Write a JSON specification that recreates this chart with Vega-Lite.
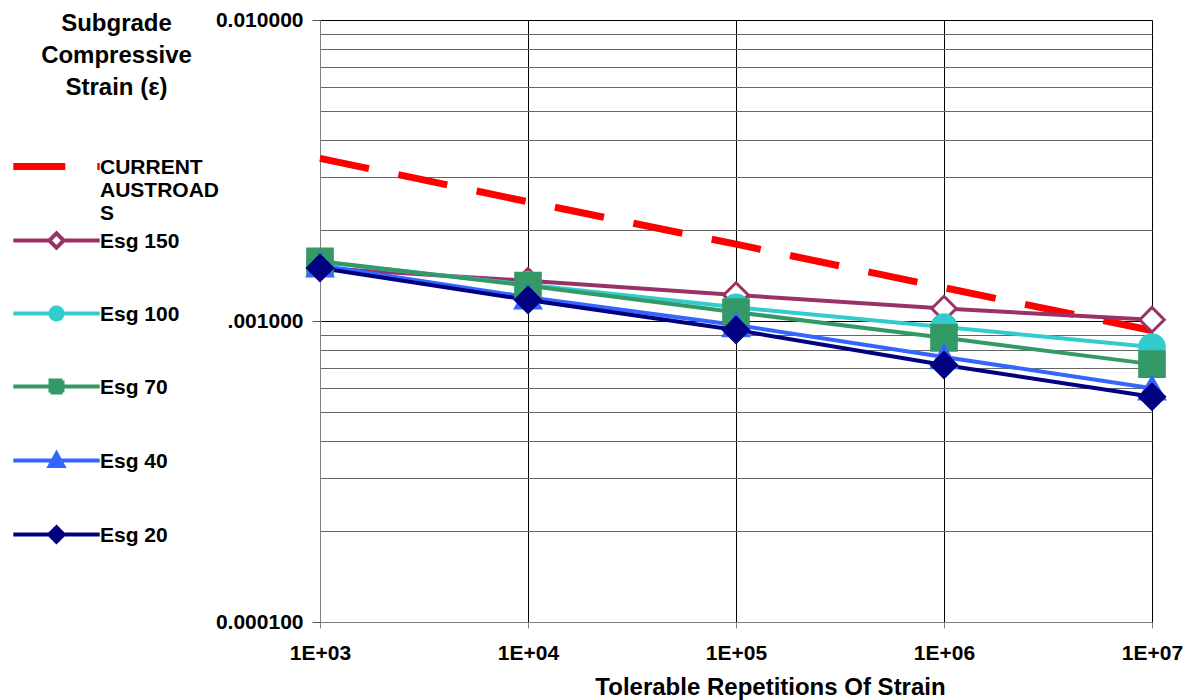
{
  "$schema": "https://vega.github.io/schema/vega-lite/v6.json",
  "width": 832,
  "height": 602,
  "autosize": "none",
  "padding": {"left": 320, "top": 20, "right": 45, "bottom": 78},
  "background": "white",
  "config": {"font": "Liberation Sans", "view": {"stroke": null}},
  "data": {
    "values": [
      {"series": "CURRENT AUSTROADS", "N": 1000, "strain": 0.00347},
      {"series": "CURRENT AUSTROADS", "N": 10000, "strain": 0.00249},
      {"series": "CURRENT AUSTROADS", "N": 100000, "strain": 0.00180},
      {"series": "CURRENT AUSTROADS", "N": 1000000, "strain": 0.00129},
      {"series": "CURRENT AUSTROADS", "N": 10000000, "strain": 0.00093},
      {"series": "Esg 150", "N": 1000, "strain": 0.00150},
      {"series": "Esg 150", "N": 10000, "strain": 0.00136},
      {"series": "Esg 150", "N": 100000, "strain": 0.00122},
      {"series": "Esg 150", "N": 1000000, "strain": 0.00110},
      {"series": "Esg 150", "N": 10000000, "strain": 0.00101},
      {"series": "Esg 100", "N": 1000, "strain": 0.00157},
      {"series": "Esg 100", "N": 10000, "strain": 0.00132},
      {"series": "Esg 100", "N": 100000, "strain": 0.00111},
      {"series": "Esg 100", "N": 1000000, "strain": 0.000955},
      {"series": "Esg 100", "N": 10000000, "strain": 0.00082},
      {"series": "Esg 70", "N": 1000, "strain": 0.00158},
      {"series": "Esg 70", "N": 10000, "strain": 0.00131},
      {"series": "Esg 70", "N": 100000, "strain": 0.00107},
      {"series": "Esg 70", "N": 1000000, "strain": 0.000879},
      {"series": "Esg 70", "N": 10000000, "strain": 0.000719},
      {"series": "Esg 40", "N": 1000, "strain": 0.00153},
      {"series": "Esg 40", "N": 10000, "strain": 0.00120},
      {"series": "Esg 40", "N": 100000, "strain": 0.00097},
      {"series": "Esg 40", "N": 1000000, "strain": 0.000759},
      {"series": "Esg 40", "N": 10000000, "strain": 0.000598},
      {"series": "Esg 20", "N": 1000, "strain": 0.00150},
      {"series": "Esg 20", "N": 10000, "strain": 0.001175},
      {"series": "Esg 20", "N": 100000, "strain": 0.000933},
      {"series": "Esg 20", "N": 1000000, "strain": 0.000714},
      {"series": "Esg 20", "N": 10000000, "strain": 0.00056}
    ]
  },
  "encoding": {
    "x": {
      "field": "N",
      "type": "quantitative",
      "scale": {"type": "log", "domain": [1000, 10000000]},
      "axis": {
        "title": "Tolerable Repetitions Of Strain",
        "titleFont": "Liberation Sans",
        "titleFontSize": 24,
        "titleFontWeight": "bold",
        "titleColor": "black",
        "titleX": 450,
        "titleY": 72,
        "titleAlign": "center",
        "titleBaseline": "alphabetic",
        "values": [1000, 10000, 100000, 1000000, 10000000],
        "labelExpr": "'1E+0' + round(log(datum.value)/LN10)",
        "labelFont": "Liberation Sans",
        "labelFontSize": 21,
        "labelFontWeight": "bold",
        "labelColor": "black",
        "labelPadding": 14,
        "labelFlush": false,
        "labelOverlap": false,
        "tickSize": 6,
        "tickColor": "#808080",
        "domainColor": "#808080",
        "grid": true,
        "gridColor": "black",
        "gridOpacity": 1
      }
    },
    "y": {
      "field": "strain",
      "type": "quantitative",
      "scale": {"type": "log", "domain": [0.0001, 0.01]},
      "axis": {
        "title": ["Subgrade", "Compressive", "Strain (ε)"],
        "titleFont": "Liberation Sans",
        "titleFontSize": 24,
        "titleFontWeight": "bold",
        "titleColor": "black",
        "titleAngle": 0,
        "titleAlign": "center",
        "titleBaseline": "alphabetic",
        "titleX": -204,
        "titleY": 10,
        "titleLineHeight": 32,
        "values": [0.0001, 0.0002, 0.0003, 0.0004, 0.0005, 0.0006, 0.0007, 0.0008, 0.0009, 0.001, 0.002, 0.003, 0.004, 0.005, 0.006, 0.007, 0.008, 0.009, 0.01],
        "labelExpr": "datum.value === 0.01 ? '0.010000' : datum.value === 0.001 ? '.001000' : datum.value === 0.0001 ? '0.000100' : ''",
        "labelFont": "Liberation Sans",
        "labelFontSize": 21,
        "labelFontWeight": "bold",
        "labelColor": "black",
        "labelPadding": 9,
        "labelFlush": false,
        "labelOverlap": false,
        "tickSize": 8,
        "tickColor": "#555555",
        "tickOpacity": {"condition": {"test": "datum.value === 0.01 || datum.value === 0.001 || datum.value === 0.0001", "value": 1}, "value": 0},
        "domainColor": "#808080",
        "grid": true,
        "gridColor": {"condition": {"test": "datum.value === 0.01 || datum.value === 0.001 || datum.value === 0.0001", "value": "black"}, "value": "#666666"},
        "gridOpacity": 1
      }
    }
  },
  "layer": [
    {
      "transform": [{"filter": "datum.series === 'CURRENT AUSTROADS'"}],
      "mark": {"type": "line", "strokeWidth": 7, "strokeDash": [50, 30]},
      "encoding": {
        "color": {
          "field": "series",
          "type": "nominal",
          "sort": null,
          "scale": {
            "domain": ["CURRENT AUSTROADS", "Esg 150", "Esg 100", "Esg 70", "Esg 40", "Esg 20"],
            "range": ["#FF0000", "#993366", "#33CCCC", "#339966", "#3366FF", "#000080"]
          },
          "legend": {
            "orient": "none",
            "legendX": -310,
            "legendY": 136,
            "title": null,
            "labelFont": "Liberation Sans",
            "labelFontSize": 21,
            "labelFontWeight": "bold",
            "labelColor": "black",
            "labelBaseline": "top",
            "labelLineHeight": 24,
            "labelOffset": 33,
            "labelLimit": 300,
            "symbolSize": 256,
            "symbolOffset": 36,
            "rowPadding": 1,
            "labelExpr": "datum.label === 'CURRENT AUSTROADS' ? ['CURRENT', 'AUSTROAD', 'S'] : [datum.label, '', '']",
            "encode": {
              "symbols": {
                "update": {
                  "shape": {"signal": "datum.value === 'CURRENT AUSTROADS' ? 'M-5.4,0H5.4' : datum.value === 'Esg 150' ? 'M-5.4,0H-0.9M0.9,0H5.4M0,-0.9L0.9,0L0,0.9L-0.9,0Z' : datum.value === 'Esg 100' ? 'M-5.4,0H5.4M-0.75,0A0.75,0.75 0 1,1 0.75,0A0.75,0.75 0 1,1 -0.75,0Z' : datum.value === 'Esg 70' ? 'M-5.4,0H5.4M-0.75,-0.75H0.75V0.75H-0.75Z' : datum.value === 'Esg 40' ? 'M-5.4,0H5.4M0,-0.85L0.85,0.7H-0.85Z' : 'M-5.4,0H5.4M0,-0.9L0.9,0L0,0.9L-0.9,0Z'"},
                  "fill": {"signal": "datum.value === 'CURRENT AUSTROADS' ? 'transparent' : datum.value === 'Esg 150' ? 'white' : scale('color', datum.value)"},
                  "stroke": {"signal": "scale('color', datum.value)"},
                  "strokeWidth": {"signal": "datum.value === 'CURRENT AUSTROADS' ? 7 : 4"},
                  "strokeDash": {"signal": "datum.value === 'CURRENT AUSTROADS' ? [52, 32] : [1, 0]"},
                  "opacity": {"value": 1}
                }
              },
              "labels": {"update": {"dy": {"value": -10}}}
            }
          }
        }
      }
    },
    {
      "transform": [{"filter": "datum.series !== 'CURRENT AUSTROADS'"}],
      "mark": {"type": "line", "strokeWidth": 4},
      "encoding": {
        "color": {"field": "series", "type": "nominal", "sort": null}
      }
    },
    {
      "transform": [{"filter": "datum.series !== 'CURRENT AUSTROADS'"}],
      "mark": {"type": "point", "filled": true, "strokeWidth": 3, "opacity": 1},
      "encoding": {
        "shape": {
          "field": "series", "type": "nominal", "legend": null,
          "scale": {"domain": ["Esg 150", "Esg 100", "Esg 70", "Esg 40", "Esg 20"], "range": ["diamond", "circle", "square", "triangle-up", "diamond"]}
        },
        "fill": {
          "field": "series", "type": "nominal", "legend": null,
          "scale": {"domain": ["Esg 150", "Esg 100", "Esg 70", "Esg 40", "Esg 20"], "range": ["white", "#33CCCC", "#339966", "#3366FF", "#000080"]}
        },
        "stroke": {
          "field": "series", "type": "nominal", "legend": null,
          "scale": {"domain": ["Esg 150", "Esg 100", "Esg 70", "Esg 40", "Esg 20"], "range": ["#993366", "#33CCCC", "#339966", "#3366FF", "#000080"]}
        },
        "size": {
          "field": "series", "type": "nominal", "legend": null,
          "scale": {"domain": ["Esg 150", "Esg 100", "Esg 70", "Esg 40", "Esg 20"], "range": [600, 616, 784, 784, 784]}
        }
      }
    }
  ]
}
